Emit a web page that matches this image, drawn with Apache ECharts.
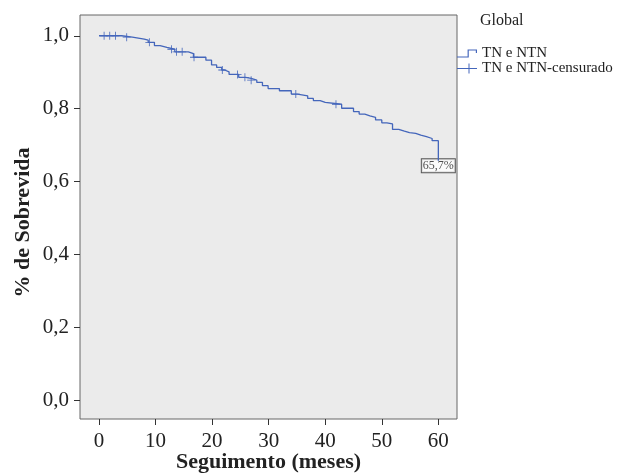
<!DOCTYPE html>
<html>
<head>
<meta charset="utf-8">
<script src="https://cdn.jsdelivr.net/npm/echarts@6/dist/echarts.min.js"></script>
<style>
  html, body { margin: 0; padding: 0; background: #fff; }
  #chart { width: 617px; height: 474px; }
</style>
</head>
<body>
<div id="chart"></div>
<script>
// Kaplan-Meier steps: time (months) at which survival drops, and survival after the drop
const eventTimes = [0, 4.0, 5.9, 8.0, 8.7, 9.8, 10.8, 12.0, 13.4, 15.8, 16.7, 18.9, 19.9, 20.8, 21.7, 22.2, 23.0,
  24.7, 25.9, 26.9, 27.9, 28.9, 29.9, 31.9, 34.0, 35.1, 36.9, 37.9, 39.1, 40.0, 42.9, 45.0, 46.0, 47.0, 47.9,
  48.9, 50.0, 50.9, 51.9, 53.0, 54.0, 54.9, 56.0, 56.9, 57.9, 58.9, 60.0];
const survival = [1.0, 0.996, 0.991, 0.988, 0.982, 0.973, 0.968, 0.963, 0.956, 0.951, 0.941, 0.933, 0.920, 0.913,
  0.906, 0.901, 0.894, 0.886, 0.883, 0.878, 0.872, 0.863, 0.855, 0.849, 0.840, 0.835, 0.828, 0.822, 0.817,
  0.812, 0.801, 0.792, 0.785, 0.780, 0.776, 0.769, 0.761, 0.758, 0.743, 0.738, 0.734, 0.732, 0.727, 0.723,
  0.718, 0.712, 0.657];
const censoredTimes = [0.9, 1.9, 2.9, 4.9, 8.9, 12.8, 13.7, 14.7, 16.8, 21.8, 24.5, 25.8, 26.9, 34.8, 41.9];
const xTicks = [0, 10, 20, 30, 40, 50, 60];
const yTicks = [0, 0.2, 0.4, 0.6, 0.8, 1.0];

const lineColor = "#4466bb";
const serif = "'Liberation Serif', 'DejaVu Serif', serif";

function survivalAt(t) {
  let s = survival[0];
  eventTimes.forEach((et, i) => {
    if (et <= t) s = survival[i];
  });
  return s;
}

const curveData = eventTimes.map((t, i) => [t, survival[i]]);
const censorData = censoredTimes.map((t) => [t, survivalAt(t)]);
const lastPoint = curveData[curveData.length - 1];

const fmtComma = (v) => Number(v).toFixed(1).replace(".", ",");

const chart = echarts.init(document.getElementById("chart"));
chart.setOption({
  animation: false,
  title: {
    text: "Global",
    left: 475,
    top: 8,
    textStyle: { fontFamily: serif, fontWeight: "normal", fontSize: 16, color: "#222" },
  },
  legend: {
    orient: "vertical",
    left: 452,
    top: 41,
    itemWidth: 20,
    itemHeight: 10,
    itemGap: 0,
    textStyle: { fontFamily: serif, fontSize: 15, color: "#222" },
    data: [
      { name: "TN e NTN", icon: "path://M0,9H9V3H17V4H10V10H0Z M16,3H17V6H16Z" },
      { name: "TN e NTN-censurado", icon: "path://M0,4.5H20V5.5H0Z M11.5,0H12.5V10H11.5Z" },
    ],
  },
  grid: {
    left: 80,
    right: 160,
    top: 15,
    bottom: 55,
    containLabel: false,
    outerBoundsMode: "none",
    show: true,
    backgroundColor: "#ebebeb",
    borderColor: "#666",
    borderWidth: 1,
  },
  xAxis: {
    type: "value",
    min: -3.36,
    max: 63.3,
    name: "Seguimento (meses)",
    nameLocation: "middle",
    nameGap: 32,
    nameMoveOverlap: false,
    nameTextStyle: { fontFamily: serif, fontWeight: "bold", fontSize: 22, color: "#222" },
    axisLine: { show: false, onZero: false },
    splitLine: { show: false },
    axisTick: { show: true, customValues: xTicks, length: 6, lineStyle: { color: "#333" } },
    axisLabel: {
      customValues: xTicks,
      fontFamily: serif,
      fontSize: 21,
      color: "#222",
      margin: 12,
    },
  },
  yAxis: {
    type: "value",
    min: -0.052,
    max: 1.057,
    name: "% de Sobrevida",
    nameLocation: "middle",
    nameGap: 46,
    nameMoveOverlap: false,
    nameRotate: 90,
    nameTextStyle: { fontFamily: serif, fontWeight: "bold", fontSize: 22, color: "#222", padding: [0, 11, 0, 0] },
    axisLine: { show: false, onZero: false },
    splitLine: { show: false },
    axisTick: { show: true, customValues: yTicks, length: 6, lineStyle: { color: "#333" } },
    axisLabel: {
      customValues: yTicks,
      formatter: fmtComma,
      fontFamily: serif,
      fontSize: 21,
      color: "#222",
      margin: 11,
    },
  },
  series: [
    {
      name: "TN e NTN",
      type: "line",
      step: "end",
      showSymbol: false,
      lineStyle: { color: lineColor, width: 1.3 },
      itemStyle: { color: lineColor },
      data: curveData,
    },
    {
      name: "TN e NTN-censurado",
      type: "scatter",
      symbol: "path://M0,4.5H10V5.5H0Z M4.5,0H5.5V10H4.5Z",
      symbolSize: 8,
      itemStyle: { color: lineColor, opacity: 1 },
      data: censorData,
    },
    {
      name: "endLabel",
      type: "scatter",
      symbolSize: 0,
      silent: true,
      data: [lastPoint],
      label: {
        show: true,
        position: "inside",
        offset: [0, 5],
        formatter: (p) => (p.value[1] * 100).toFixed(1).replace(".", ",") + "%",
        fontFamily: serif,
        fontSize: 12,
        color: "#222",
        backgroundColor: "#fff",
        borderColor: "#333",
        borderWidth: 1,
        padding: [1, 1, 0, 1],
      },
    },
  ],
});
</script>
</body>
</html>
